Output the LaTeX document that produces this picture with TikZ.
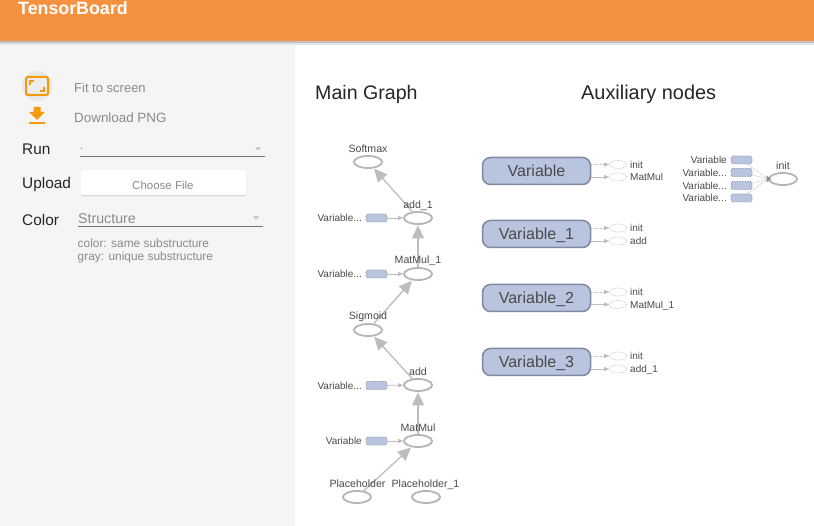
\documentclass[tikz,border=0pt]{standalone}
\usepackage{fontspec}
\setmainfont{Liberation Sans}
\usetikzlibrary{shapes.geometric,arrows.meta}
\definecolor{hdr}{HTML}{F59240}
\definecolor{panel}{HTML}{F5F5F5}
\definecolor{ora}{HTML}{F59A0C}
\definecolor{blu}{HTML}{B9C4DE}
\definecolor{blub}{HTML}{8089A0}
\definecolor{edgec}{HTML}{BDBDBD}
\definecolor{ell}{HTML}{B5B5B5}
\definecolor{muted}{HTML}{8A8A8A}
\definecolor{lbl}{HTML}{4A4A4A}
\newcommand{\fs}[1]{\fontsize{#1}{#1}\selectfont}
\newcommand{\vd}{Variable...}
\tikzset{
 op/.style={ellipse,draw=ell,line width=1.8pt,fill=white,minimum width=28pt,minimum height=12pt,inner sep=0pt},
 auxop/.style={ellipse,draw=edgec,densely dotted,line width=.7pt,fill=white,minimum width=17pt,minimum height=8pt,inner sep=0pt},
 ser/.style={rectangle,rounded corners=1.5pt,draw=blub,densely dotted,line width=.6pt,fill=blu,minimum width=21pt,minimum height=8pt,inner sep=0pt},
 group/.style={rectangle,rounded corners=8pt,draw=blub,line width=1.5pt,fill=blu,minimum width=108pt,minimum height=27pt,inner sep=0pt,text=lbl,font=\fs{16},text height=14pt,text depth=2.5pt},
 tag/.style={inner sep=0pt,text=lbl,font=\fs{10.6},text height=9.6pt,text depth=2pt},
 stag/.style={inner sep=0pt,text=lbl,font=\fs{10},text height=9.2pt,text depth=2pt},
 flow/.style={draw=edgec,line width=1.3pt,-{Triangle[length=13pt,width=12pt]},shorten >=0.5pt},
 thin flow/.style={draw=edgec,line width=.8pt,-{Triangle[length=5pt,width=4pt]}},
 ctl/.style={draw=edgec,line width=.7pt,densely dotted,-{Triangle[length=5pt,width=4pt]}},
 side/.style={inner sep=0pt,anchor=west,text=black!85,font=\fs{15.4}},
 mut/.style={inner sep=0pt,anchor=west,text=muted},
}
\begin{document}
\begin{tikzpicture}[x=1pt,y=-1pt]
\useasboundingbox (0,0) rectangle (814,526);
\fill[white] (0,0) rectangle (814,526);
\fill[panel] (0,41) rectangle (295,526);
\fill[black!25] (0,41) rectangle (814,43);
\fill[black!10] (0,43) rectangle (814,45);
\fill[hdr] (0,0) rectangle (814,41);
\node[inner sep=0pt,anchor=west,text=white,font=\fs{17.8}\bfseries] (title) at (18,8) {TensorBoard};
% side panel
\fill[black!9] (37,86) circle (15);
\draw[ora,line width=2pt,rounded corners=2pt,fill=black!7] (26,77) rectangle (48,95);
\draw[ora,line width=1.5pt] (30,85)--(30,81)--(34,81) (44,87)--(44,91)--(40,91);
\node[mut,font=\fs{13}] (fit) at (74,87.5) {Fit to screen};
\fill[ora] (33.5,107)--(40.5,107)--(40.5,112)--(45,112)--(37,120)--(29,112)--(33.5,112)--cycle;
\fill[ora] (29,122.5) rectangle (45,124.5);
\node[mut,font=\fs{13.4}] (dl) at (74,117.5) {Download PNG};
\node[side] (run) at (22,149.5) {Run};
\node[inner sep=0pt,anchor=west,text=muted,font=\fs{11}] (dot) at (80,149) {.};
\draw[black!55,line width=.7pt] (80,156)--(265,156);
\fill[black!25] (255,147.5)--(261,147.5)--(258,150.5)--cycle;
\node[side] (up) at (22,185) {Upload};
\fill[black!15,rounded corners=2pt] (81,172) rectangle (246,196.5);
\fill[white,rounded corners=2pt] (81,170) rectangle (246,195);
\node[mut,font=\fs{11.5}] (cf) at (132,185) {Choose File};
\node[side] (col) at (22,219.5) {Color};
\node[mut,font=\fs{14.2}] (st) at (78,218.5) {Structure};
\draw[black!55,line width=.7pt] (78,226)--(263,226);
\fill[black!25] (253,216.5)--(259,216.5)--(256,219.5)--cycle;
\node[mut,font=\fs{11.9}] (c1) at (77.5,243) {color: same substructure};
\node[mut,font=\fs{11.9}] (c2) at (77.5,257) {gray: unique substructure};
% headings
\node[inner sep=0pt,anchor=west,text=black!85,font=\fs{19.6}] (mg) at (315,94.5) {Main Graph};
\node[inner sep=0pt,anchor=west,text=black!85,font=\fs{19.9}] (an) at (581,94.5) {Auxiliary nodes};
% main graph
\node[op] (softmax) at (368,162) {};
\node[op] (add1) at (418,218) {};
\node[op] (matmul1) at (418,274) {};
\node[op] (sigmoid) at (368,330) {};
\node[op] (add) at (418,385) {};
\node[op] (matmul) at (418,441) {};
\node[op] (ph) at (357,497) {};
\node[op] (ph1) at (426,497) {};
\node[ser] (v1) at (376.5,218) {};
\node[ser] (v2) at (376.5,274) {};
\node[ser] (v3) at (376.5,385.5) {};
\node[ser] (v4) at (376.5,441) {};
\draw[flow] (ph) -- (matmul);
\draw[flow] (matmul) -- (add);
\draw[flow] (add) -- (sigmoid);
\draw[flow] (sigmoid) -- (matmul1);
\draw[flow] (matmul1) -- (add1);
\draw[flow] (add1) -- (softmax);
\foreach \a/\b in {v1/add1,v2/matmul1,v3/add,v4/matmul} \draw[thin flow] (\a) -- (\b);
\node[tag] (lsm) at (368,148.5) {Softmax};
\node[tag] (la1) at (418,204.5) {add\_1};
\node[tag] (lm1) at (418,260) {MatMul\_1};
\node[tag] (lsg) at (368,315.5) {Sigmoid};
\node[tag] (la) at (418,372) {add};
\node[tag] (lm) at (418,427.5) {MatMul};
\node[tag] (lp) at (357.5,483.5) {Placeholder};
\node[tag] (lp1) at (425.5,483.5) {Placeholder\_1};
\foreach \n/\y/\t in {s1/218/\vd,s2/274/\vd,s3/385.5/\vd,s4/441/Variable}
  \node[stag,anchor=east] (\n) at (362,\y) {\t};
% auxiliary groups
\node[group] (g0) at (536.5,171) {Variable};
\node[group] (g1) at (536.5,234) {Variable\_1};
\node[group] (g2) at (536.5,298) {Variable\_2};
\node[group] (g3) at (536.5,362) {Variable\_3};
\foreach \g/\ya/\yb/\lb [count=\i] in {g0/164.5/177/MatMul,g1/228/241/add,g2/292/304.5/MatMul\_1,g3/356/369/add\_1}{
  \node[auxop] (ai\i) at (618,\ya) {};
  \node[auxop] (ab\i) at (618,\yb) {};
  \draw[ctl] (\g.east |- ai\i) -- (ai\i);
  \draw[thin flow] (\g.east |- ab\i) -- (ab\i);
  \node[stag,anchor=west] (tai\i) at (630,\ya) {init};
  \node[stag,anchor=west] (tab\i) at (630,\yb) {\lb};
}
% init
\node[op] (init) at (783,179) {};
\node[tag] (linit) at (783,165.5) {init};
\coordinate (initin) at (768,179);
\foreach \n/\y/\t in {w1/160/Variable,w2/172.5/\vd,w3/185.5/\vd,w4/198/\vd}{
  \node[ser] (\n) at (741.5,\y) {};
  \node[stag,anchor=east] (t\n) at (727,\y) {\t};
  \draw[edgec,line width=.7pt,densely dotted] (\n) -- (initin);
}
\fill[black!45] (771,179) -- (766.5,175.5) -- (766.5,182.5) -- cycle;
\end{tikzpicture}
\end{document}
